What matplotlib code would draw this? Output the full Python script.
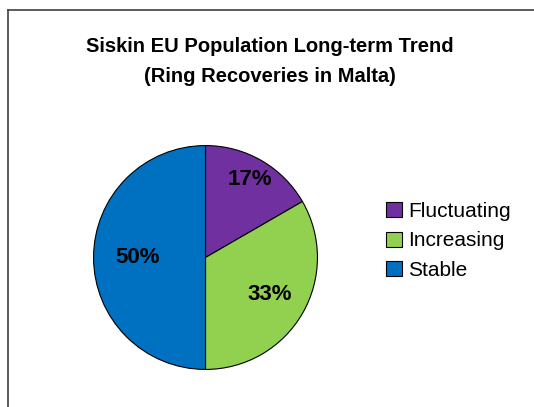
import matplotlib.pyplot as plt
from matplotlib.lines import Line2D
import numpy as np

plt.rcParams['font.family'] = ['Liberation Sans', 'DejaVu Sans']

# Data
categories = ['Fluctuating', 'Increasing', 'Stable']
values = [1, 2, 3]
colors = ['#7030A0', '#92D050', '#0070C0']
label_dist = [0.80, 0.66, 0.61]

fig = plt.figure(figsize=(5.34, 4.07), dpi=100)

# chart area frame (cut at right and bottom edges)
fig.add_artist(Line2D([8 / 534, 1.0], [1 - 10 / 407, 1 - 10 / 407], color='#404040', lw=1.2))
fig.add_artist(Line2D([8 / 534, 8 / 534], [0.0, 1 - 10 / 407], color='#404040', lw=1.2))

ax = fig.add_axes([93 / 534, 1 - 370 / 407, 225 / 534, 225 / 407])
wedges, texts, autotexts = ax.pie(values, colors=colors, startangle=90, counterclock=False,
                                  autopct='%1.0f%%', pctdistance=0.7,
                                  wedgeprops=dict(edgecolor='black', linewidth=0.8),
                                  textprops=dict(fontsize=16, fontweight='bold', color='black'))
ax.set_aspect('equal')
ax.set_xlim(-1.005, 1.005)
ax.set_ylim(-1.005, 1.005)

# move percentage labels to where they sit in the original
for w, t, d in zip(wedges, autotexts, label_dist):
    ang = np.deg2rad((w.theta1 + w.theta2) / 2)
    t.set_position((d * np.cos(ang), d * np.sin(ang)))

fig.text(0.505, 1 - 46 / 407, 'Siskin EU Population Long-term Trend', ha='center', va='center',
         fontsize=14.5, fontweight='bold')
fig.text(0.505, 1 - 76 / 407, '(Ring Recoveries in Malta)', ha='center', va='center',
         fontsize=14.5, fontweight='bold')

fig.legend(wedges, categories, loc='center left', bbox_to_anchor=(386 / 534, 1 - 241 / 407),
           frameon=False, fontsize=15, handlelength=0.75, handleheight=0.75,
           handletextpad=0.3, labelspacing=0.5, borderaxespad=0, borderpad=0)

fig.savefig('out.png', dpi=100)
